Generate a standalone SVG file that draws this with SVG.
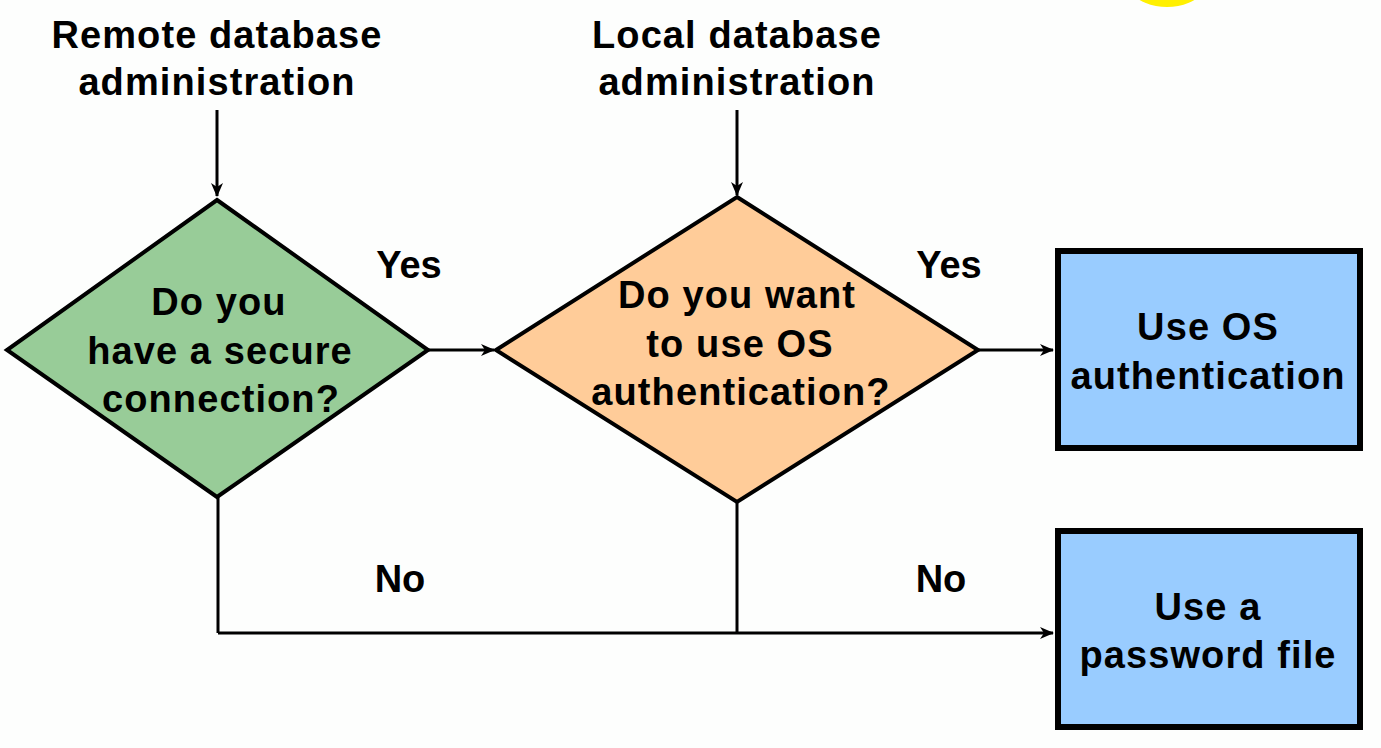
<svg xmlns="http://www.w3.org/2000/svg" width="1381" height="748" viewBox="0 0 1381 748">
<defs>
<marker id="arr" markerWidth="14" markerHeight="12" refX="13" refY="6" orient="auto" markerUnits="userSpaceOnUse">
<path d="M0,0 L14,6 L0,12 L4,6 Z" fill="#000"/>
</marker>
<style>
text{font-family:"Liberation Sans",Arial,sans-serif;font-weight:bold;fill:#000;text-anchor:middle}
.t{font-size:38px;letter-spacing:1.1px}
.lbl{font-size:38px}
.conn{stroke:#000;stroke-width:3;fill:none}
.dia{stroke:#000;stroke-width:4;stroke-linejoin:miter}
.box{fill:#99CCFF;stroke:#000;stroke-width:6}
</style>
</defs>
<rect width="1381" height="748" fill="#FDFEFD"/>
<circle cx="1167" cy="-50" r="57" fill="#FFF000"/>
<g id="connectors">
<path class="conn" d="M217,110 V196" marker-end="url(#arr)"/>
<path class="conn" d="M737,110 V195" marker-end="url(#arr)"/>
<path class="conn" d="M428,350 H494" marker-end="url(#arr)"/>
<path class="conn" d="M978,350 H1053" marker-end="url(#arr)"/>
<path class="conn" d="M218,497 V633"/>
<path class="conn" d="M737,502 V633"/>
<path class="conn" d="M218,633 H1053" marker-end="url(#arr)"/>
<text class="lbl" x="409" y="278">Yes</text>
<text class="lbl" x="949" y="278">Yes</text>
<text class="lbl" x="400" y="592">No</text>
<text class="lbl" x="941" y="592">No</text>
</g>
<g id="remote">
<text class="t" x="217" y="48">Remote database</text>
<text class="t" x="217" y="95">administration</text>
</g>
<g id="local">
<text class="t" x="737" y="48">Local database</text>
<text class="t" x="737" y="95">administration</text>
</g>
<g id="secure">
<polygon class="dia" points="217,200 428,350 217,497 7,350" fill="#98CC98"/>
<text class="t" x="219" y="315">Do you</text>
<text class="t" x="220" y="364">have a secure</text>
<text class="t" x="221" y="412">connection?</text>
</g>
<g id="osauth">
<polygon class="dia" points="737,197 978,350 737,502 496,350" fill="#FFCC99"/>
<text class="t" x="737" y="308">Do you want</text>
<text class="t" x="740" y="357">to use OS</text>
<text class="t" x="741" y="405">authentication?</text>
</g>
<g id="useos">
<rect class="box" x="1058" y="251" width="302" height="197"/>
<text class="t" x="1208" y="340">Use OS</text>
<text class="t" x="1208" y="389">authentication</text>
</g>
<g id="pwfile">
<rect class="box" x="1058" y="531" width="302" height="196"/>
<text class="t" x="1208" y="620">Use a</text>
<text class="t" x="1208" y="668">password file</text>
</g>
</svg>
